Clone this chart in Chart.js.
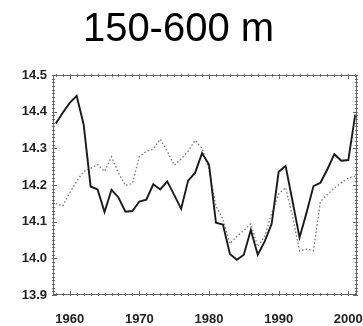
<!DOCTYPE html>
<html>
<head>
<meta charset="utf-8">
<script src="https://cdn.jsdelivr.net/npm/chart.js@4/dist/chart.umd.min.js"></script>
<style>
  html, body { margin: 0; padding: 0; background: #fff; }
  #wrap { width: 363px; height: 326px; }
</style>
</head>
<body>
<div id="wrap"><canvas id="chart" width="363" height="326"></canvas></div>
<script>
const years = [
  1958, 1959, 1960, 1961, 1962, 1963, 1964, 1965, 1966, 1967,
  1968, 1969, 1970, 1971, 1972, 1973, 1974, 1975, 1976, 1977,
  1978, 1979, 1980, 1981, 1982, 1983, 1984, 1985, 1986, 1987,
  1988, 1989, 1990, 1991, 1992, 1993, 1994, 1995, 1996, 1997,
  1998, 1999, 2000, 2001
];

// solid line
const solidValues = [
  14.368, 14.397, 14.424, 14.443, 14.365, 14.196, 14.188, 14.126, 14.187, 14.166,
  14.127, 14.129, 14.155, 14.160, 14.202, 14.188, 14.210, 14.173, 14.135, 14.212,
  14.233, 14.287, 14.256, 14.097, 14.092, 14.012, 13.996, 14.010, 14.077, 14.010,
  14.046, 14.094, 14.236, 14.252, 14.155, 14.057, 14.124, 14.197, 14.206, 14.243,
  14.284, 14.266, 14.268, 14.392
];

// dotted line
const dottedValues = [
  14.150, 14.143, 14.178, 14.210, 14.237, 14.245, 14.256, 14.237, 14.277, 14.233,
  14.199, 14.204, 14.278, 14.292, 14.298, 14.325, 14.292, 14.254, 14.271, 14.292,
  14.322, 14.300, 14.242, 14.142, 14.107, 14.040, 14.060, 14.076, 14.094, 14.032,
  14.060, 14.124, 14.175, 14.193, 14.114, 14.020, 14.025, 14.021, 14.155, 14.174,
  14.192, 14.206, 14.219, 14.224
];

const xTicks = [1960, 1970, 1980, 1990, 2000];
const yTicks = [13.9, 14.0, 14.1, 14.2, 14.3, 14.4, 14.5];

const toPoints = (vals) => vals.map((v, i) => ({ x: years[i], y: v }));

// box with small inward ticks on all four sides
const frameTicks = {
  id: 'frameTicks',
  afterDraw(chart) {
    const { ctx, chartArea: a, scales: { x, y } } = chart;
    ctx.save();
    ctx.strokeStyle = '#666';
    ctx.lineWidth = 1;
    ctx.strokeRect(a.left + 0.5, a.top + 0.5, a.right - a.left - 1, a.bottom - a.top - 1);
    ctx.beginPath();
    for (let yr = 1958; yr <= 2001; yr++) {
      const px = Math.round(x.getPixelForValue(yr)) + 0.5;
      const len = yr % 10 === 0 ? 4 : 2;
      ctx.moveTo(px, a.top - 1); ctx.lineTo(px, a.top + len);
      ctx.moveTo(px, a.bottom + 1); ctx.lineTo(px, a.bottom - len);
    }
    for (let k = 0; k <= 60; k++) {
      const v = 13.9 + k * 0.01;
      const py = Math.round(y.getPixelForValue(v)) + 0.5;
      const len = k % 10 === 0 ? 4 : 2;
      ctx.moveTo(a.left - 1, py); ctx.lineTo(a.left + len, py);
      ctx.moveTo(a.right + 1, py); ctx.lineTo(a.right - len, py);
    }
    ctx.stroke();
    ctx.restore();
  }
};

new Chart(document.getElementById('chart'), {
  type: 'line',
  data: {
    datasets: [
      {
        label: 'solid',
        data: toPoints(solidValues),
        borderColor: '#1a1a1a',
        borderWidth: 1.9,
        pointRadius: 0,
        tension: 0
      },
      {
        label: 'dotted',
        data: toPoints(dottedValues),
        borderColor: '#777',
        borderWidth: 1.3,
        borderDash: [1.5, 2.2],
        pointRadius: 0,
        tension: 0
      }
    ]
  },
  options: {
    responsive: false,
    animation: false,
    layout: { padding: { left: 0, right: 6, top: 0, bottom: 0 } },
    plugins: {
      legend: { display: false },
      tooltip: { enabled: false },
      title: {
        display: true,
        text: '150-600 m',
        color: '#000',
        font: { family: 'Liberation Sans', size: 40, weight: 'normal', lineHeight: 1 },
        padding: { top: 10, bottom: 25 }
      }
    },
    scales: {
      x: {
        type: 'linear',
        min: 1957.6,
        max: 2001.25,
        afterBuildTicks: (s) => { s.ticks = xTicks.map(v => ({ value: v })); },
        afterFit: (s) => { s.height = 31; s.paddingLeft = 0; s.paddingRight = 0; },
        grid: { display: false, drawTicks: false },
        border: { display: false },
        ticks: {
          padding: 17,
          maxRotation: 0,
          color: '#222',
          font: { family: 'Liberation Sans', size: 13, weight: 'bold' },
          callback: (v) => String(v)
        }
      },
      y: {
        min: 13.9,
        max: 14.5,
        afterBuildTicks: (s) => { s.ticks = yTicks.map(v => ({ value: v })); },
        afterFit: (s) => { s.width = 53; s.paddingTop = 0; s.paddingBottom = 0; },
        grid: { display: false, drawTicks: false },
        border: { display: false },
        ticks: {
          padding: 6,
          color: '#222',
          font: { family: 'Liberation Sans', size: 13, weight: 'bold' },
          callback: (v) => v.toFixed(1)
        }
      }
    }
  },
  plugins: [frameTicks]
});
</script>
</body>
</html>
